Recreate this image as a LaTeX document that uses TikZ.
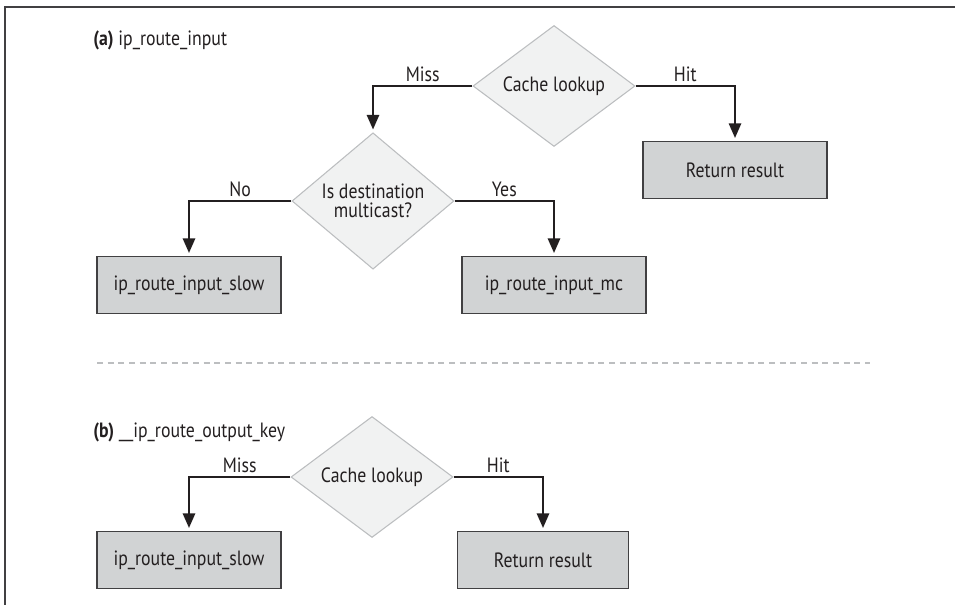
\documentclass[tikz,border=0pt]{standalone}
\usepackage{fontspec}
\setmainfont{PT Sans}[FakeStretch=0.86]
\usetikzlibrary{shapes.geometric, arrows.meta}
\definecolor{InkBlack}{HTML}{231F20}
\definecolor{BoxGray}{HTML}{D1D3D4}
\definecolor{BoxEdge}{HTML}{414042}
\definecolor{DiamondFill}{HTML}{F1F2F2}
\definecolor{DiamondEdge}{HTML}{BCBEC0}
\definecolor{RuleGray}{HTML}{BCBEC0}
\tikzset{
    stepbox/.style={
        draw=BoxEdge,
        fill=BoxGray,
        line width=1.1pt,
        minimum width=138pt,
        minimum height=42.75pt,
        inner sep=0pt,
        align=center,
        text=InkBlack
    },
    decision/.style={
        diamond,
        draw=DiamondEdge,
        fill=DiamondFill,
        line width=0.8pt,
        minimum width=121.5pt,
        minimum height=86.25pt,
        inner sep=0pt,
        align=center,
        text=InkBlack
    },
    flow/.style={draw=InkBlack, line width=2pt, shorten >=2pt,
        -{Triangle[width=9pt,length=11pt]}},
    branch/.style={pos=0.25, above=1.5pt, text=InkBlack, inner sep=1pt},
    caption/.style={anchor=west, text=InkBlack, inner sep=0pt}
}

\begin{document}
\begin{tikzpicture}[x=0.75pt, y=-0.75pt, font=\fontsize{15.5pt}{14pt}\selectfont]
\useasboundingbox (0,0) rectangle (959,605);

% page frame
\draw[BoxEdge, line width=1.1pt] (5,605) -- (5,7) -- (955,7);

% (a) ip_route_input
\node[caption] (titleA) at (93,40) {\textbf{(a)} ip\_route\_input};
\node[decision] (lookupA) at (554,86) {Cache lookup};
\node[stepbox] (resultA) at (735,170) {Return result};
\node[decision] (mcast) at (373,201) {Is destination\\multicast?};
\node[stepbox] (slowA) at (189,285) {ip\_route\_input\_slow};
\node[stepbox] (inputmc) at (554,285) {ip\_route\_input\_mc};

\draw[flow] (lookupA.west) -| node[branch] (missA) {Miss} (mcast.north);
\draw[flow] (lookupA.east) -| node[branch] (hitA) {Hit} (resultA.north);
\draw[flow] (mcast.west) -| node[branch] (noA) {No} (slowA.north);
\draw[flow] (mcast.east) -| node[branch] (yesA) {Yes} (inputmc.north);

% separator
\draw[RuleGray, line width=1.5pt, dash pattern=on 4.5pt off 3.5pt] (97,363) -- (870,363);

% (b) __ip_route_output_key
\node[caption] (titleB) at (93,432) {\textbf{(b)} \_\_ip\_route\_output\_key};
\node[decision] (lookupB) at (372,477) {Cache lookup};
\node[stepbox] (slowB) at (189,560) {ip\_route\_input\_slow};
\node[stepbox, minimum width=128pt] (resultB) at (543,560) {Return result};

\draw[flow] (lookupB.west) -| node[branch] (missB) {Miss} (slowB.north);
\draw[flow] (lookupB.east) -| node[branch] (hitB) {Hit} (resultB.north);
\end{tikzpicture}
\end{document}
